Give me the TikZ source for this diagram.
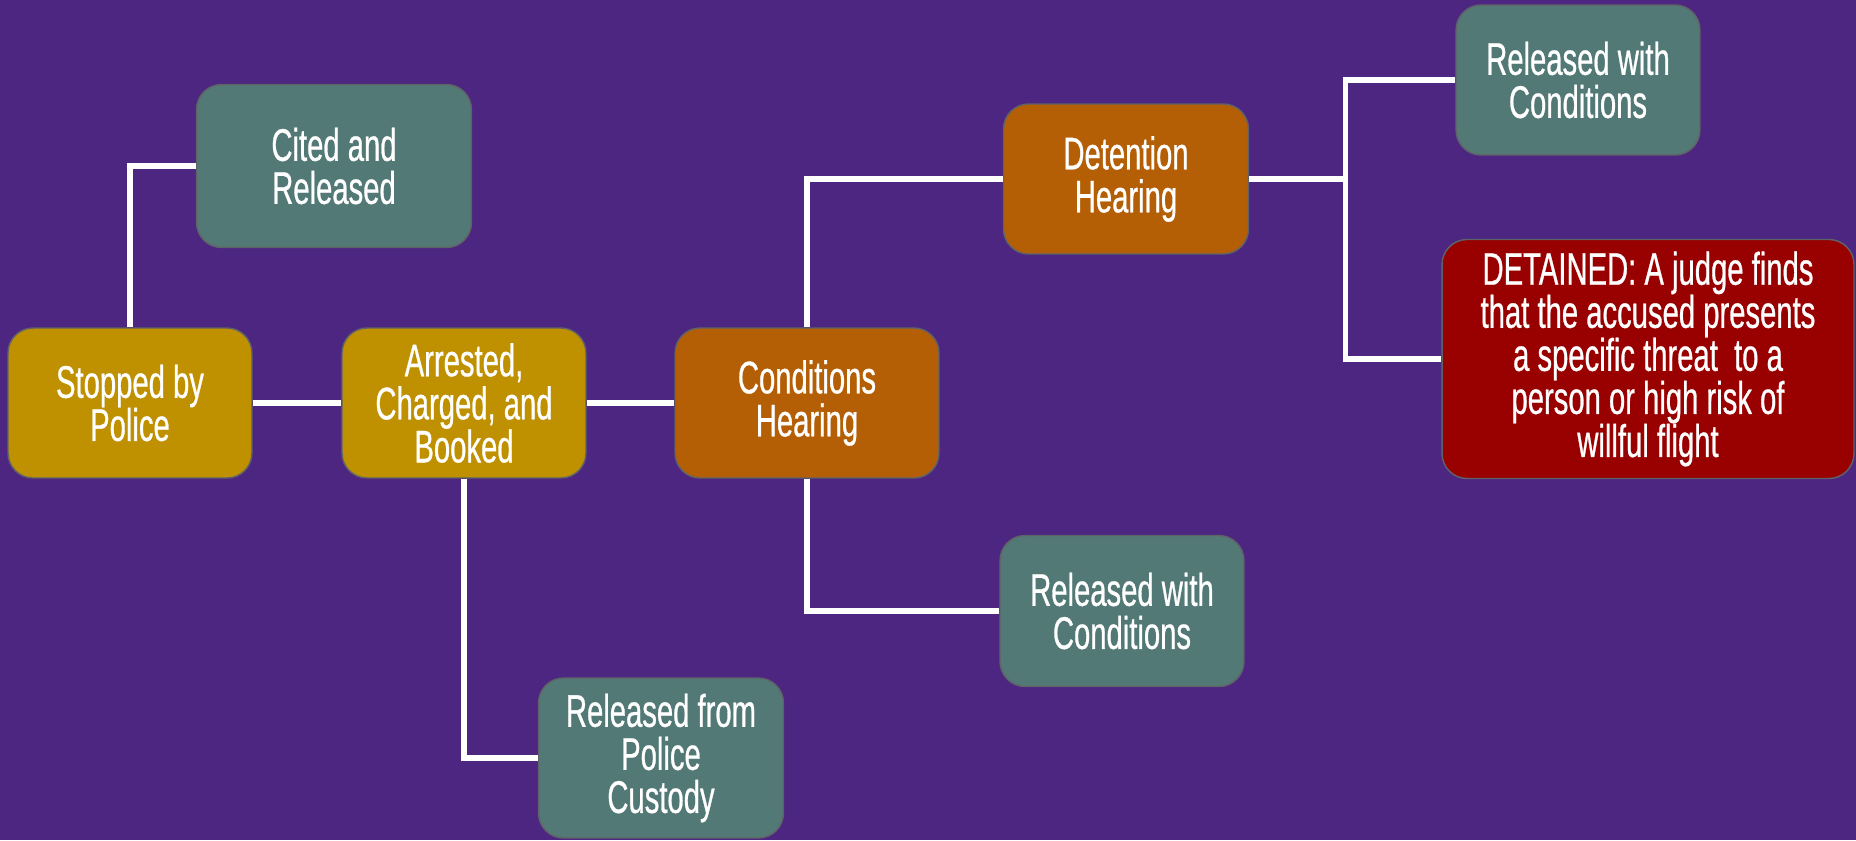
\documentclass[tikz,border=0pt]{standalone}
\usepackage{fontspec}
\setmainfont[FakeStretch=0.64, FakeBold=0.6]{Liberation Sans}
\usepackage{tikz}
\usetikzlibrary{positioning, calc}
\definecolor{bgpurple}{HTML}{4D2682}
\definecolor{cgold}{HTML}{BF9000}
\definecolor{corange}{HTML}{B45F06}
\definecolor{cteal}{HTML}{527975}
\definecolor{cred}{HTML}{990000}
\definecolor{cedge}{HTML}{5F6368}

\tikzset{
  stagebox/.style={draw=cedge, line width=0.8pt, rounded corners=0.5cm,
    align=center, text=white, inner sep=2pt,
    font=\fontsize{26}{24.5}\selectfont},
  link/.style={draw=white, line width=3pt}
}

\begin{document}
\begin{tikzpicture}[x=0.02cm, y=-0.02cm]
  \fill[bgpurple] (0,0) rectangle (1856,840);
  % first steps
  \node[stagebox, fill=cgold, minimum width=4.88cm, minimum height=3cm] (stop) at (130,403) {Stopped by\\Police};
  \node[stagebox, fill=cteal, minimum width=5.5cm, minimum height=3.26cm] (cited) at (334,166) {Cited and\\Released};
  \node[stagebox, fill=cgold, minimum width=4.88cm, minimum height=3cm] (arrest) at (464,403) {Arrested,\\Charged, and\\Booked};
  \node[stagebox, fill=cteal, minimum width=4.9cm, minimum height=3.2cm] (relpolice) at (661,758) {Released from\\Police\\Custody};
  % hearings
  \node[stagebox, fill=corange, minimum width=5.28cm, minimum height=3cm] (condhear) at (807,403) {Conditions\\Hearing};
  \node[stagebox, fill=corange, minimum width=4.9cm, minimum height=3cm] (dethear) at (1126,179) {Detention\\Hearing};
  \node[stagebox, fill=cteal, minimum width=4.88cm, minimum height=3.02cm] (relcond) at (1122,611) {Released with\\Conditions};
  \node[stagebox, fill=cteal, minimum width=4.88cm, minimum height=3cm] (relcondtop) at (1578,80) {Released with\\Conditions};
  \node[stagebox, fill=cred, minimum width=8.24cm, minimum height=4.78cm] (detained) at (1648,359) {DETAINED: A judge finds\\that the accused presents\\a specific threat~ to a\\person or high risk of\\willful flight};

  % connectors
  \draw[link] (stop.north) |- (cited.west);
  \draw[link] (stop.east) -- (arrest.west);
  \draw[link] (arrest.south) |- (relpolice.west);
  \draw[link] (arrest.east) -- (condhear.west);
  \draw[link] (condhear.north) |- (dethear.west);
  \draw[link] (condhear.south) |- (relcond.west);
  \coordinate (split) at ($(dethear.east)+(96,0)$);
  \draw[link] (dethear.east) -- (split);
  \draw[link] (split) |- (relcondtop.west);
  \draw[link] (split) |- (detained.west);
\end{tikzpicture}
\end{document}
